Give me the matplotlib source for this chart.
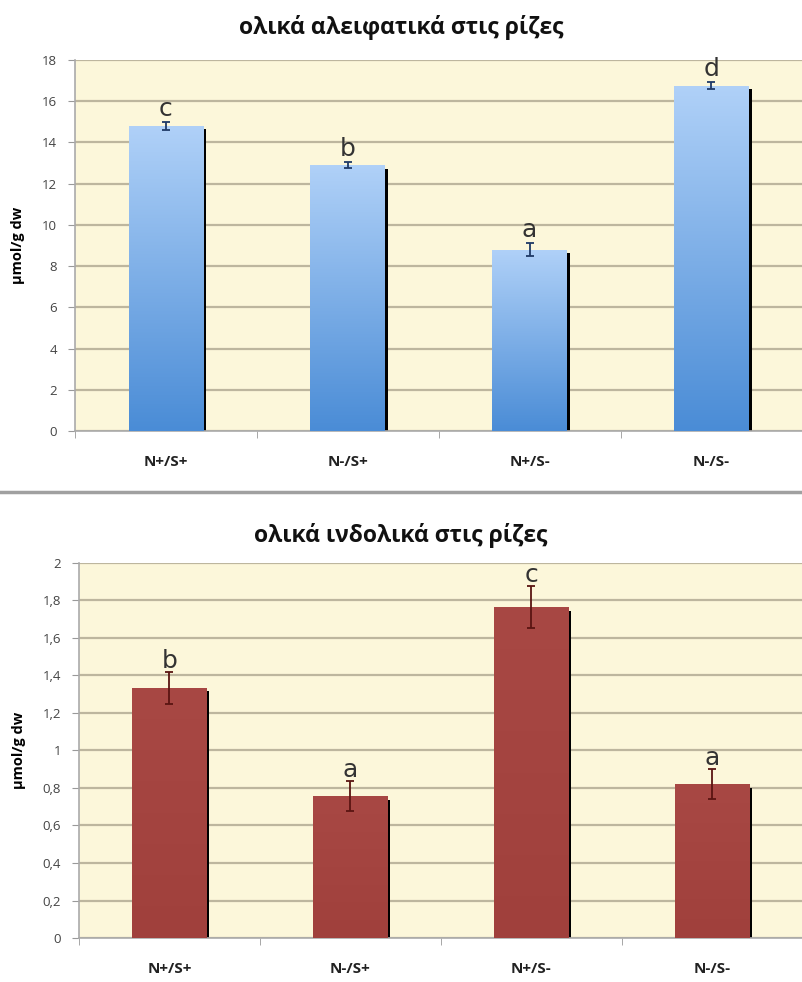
import numpy as np
import matplotlib
matplotlib.use("Agg")
import matplotlib.pyplot as plt
import matplotlib.transforms as mtransforms
from matplotlib.colors import LinearSegmentedColormap

plt.rcParams['font.family'] = ['Open Sans', 'DejaVu Sans']

categories = ['N+/S+', 'N-/S+', 'N+/S-', 'N-/S-']

# ολικά αλειφατικά
aliph_vals = [14.8, 12.9, 8.8, 16.75]
aliph_err = [0.2, 0.13, 0.3, 0.18]
aliph_letters = ['c', 'b', 'a', 'd']

# ολικά ινδολικά
indol_vals = [1.335, 0.755, 1.765, 0.82]
indol_err = [0.085, 0.08, 0.11, 0.08]
indol_letters = ['b', 'a', 'c', 'a']

bg = '#FCF7DA'
gridc = '#BDB69E'

fig = plt.figure(figsize=(8.02, 9.82), dpi=100)


def style_axis(ax, ymax, step, fmt):
    x = np.arange(len(categories))
    ax.set_facecolor(bg)
    ax.set_xlim(-0.5, len(categories) - 0.5)
    ax.set_ylim(0, ymax)
    ticks = np.arange(0, ymax + step / 2, step)
    ax.set_yticks(ticks)
    ax.set_yticklabels([fmt(t) for t in ticks], fontsize=9.5, color='#444444')
    ax.yaxis.grid(True, color=gridc, linewidth=1.6)
    ax.set_axisbelow(True)
    ax.set_xticks(x)
    ax.set_xticklabels(categories, fontsize=11, fontweight='bold', color='#222222')
    ax.set_xticks(np.arange(len(categories) + 1) - 0.5, minor=True)
    ax.tick_params(axis='x', which='major', length=0, pad=17)
    ax.tick_params(axis='x', which='minor', length=5, color='#999999')
    ax.tick_params(axis='y', length=5, color='#999999', pad=8)
    for s in ['top', 'right']:
        ax.spines[s].set_visible(False)
    for s in ['left', 'bottom']:
        ax.spines[s].set_color('#AAAAAA')
        ax.spines[s].set_linewidth(1.2)
    ax.set_ylabel('μmol/g dw', fontsize=10.5, fontweight='bold', labelpad=12)
    return x


def draw_bars(ax, vals, err, letters, cmap, ecolor, lettoff):
    x = np.arange(len(vals))
    width = 0.41
    # black shadow on the right
    shadow = mtransforms.offset_copy(ax.transData, fig=fig, x=2, y=-2.5, units='points')
    ax.bar(x, vals, width, color='black', transform=shadow, zorder=2)
    bars = ax.bar(x, vals, width, color='none', zorder=3)
    grad = np.linspace(1, 0, 256).reshape(-1, 1)
    for b in bars:
        x0, w, h = b.get_x(), b.get_width(), b.get_height()
        im = ax.imshow(grad, cmap=cmap, aspect='auto', extent=[x0, x0 + w, 0, h],
                       origin='lower', zorder=3)
        im.set_clip_path(b)
    ax.errorbar(x, vals, yerr=err, fmt='none', ecolor=ecolor, elinewidth=1.3,
                capsize=3, capthick=1.3, zorder=4)
    for xi, v, e, l in zip(x, vals, err, letters):
        ax.text(xi, v + e + lettoff, l, ha='center', va='bottom', fontsize=18,
                color='#333333', family='DejaVu Sans', zorder=5)


# top chart
ax1 = fig.add_axes([0.0935, 0.5611, 0.907, 0.3778])
style_axis(ax1, 18, 2, lambda t: '%d' % t)
blue = LinearSegmentedColormap.from_list('b', ['#b0d1f8', '#4a8cd6'])
draw_bars(ax1, aliph_vals, aliph_err, aliph_letters, blue, '#1f3a66', 0.05)
ax1.set_xlim(-0.5, 3.5)
ax1.set_ylim(0, 18)
fig.text(0.5, 0.972, 'ολικά αλειφατικά στις ρίζες', ha='center', va='center',
         fontsize=16.5, fontweight='bold', color='#111111')

# separator
fig.add_artist(plt.Line2D([0, 1], [0.499, 0.499], color='#a0a0a0', linewidth=2.5,
                          transform=fig.transFigure))

# bottom chart
ax2 = fig.add_axes([0.0985, 0.0448, 0.902, 0.3819])
style_axis(ax2, 2, 0.2, lambda t: ('%g' % round(t, 1)).replace('.', ','))
red = LinearSegmentedColormap.from_list('r', ['#a84844', '#a0403c'])
draw_bars(ax2, indol_vals, indol_err, indol_letters, red, '#5a1512', -0.005)
ax2.set_xlim(-0.5, 3.5)
ax2.set_ylim(0, 2)
fig.text(0.5, 0.455, 'ολικά ινδολικά στις ρίζες', ha='center', va='center',
         fontsize=16.5, fontweight='bold', color='#111111')

fig.savefig('out.png', dpi=100)
